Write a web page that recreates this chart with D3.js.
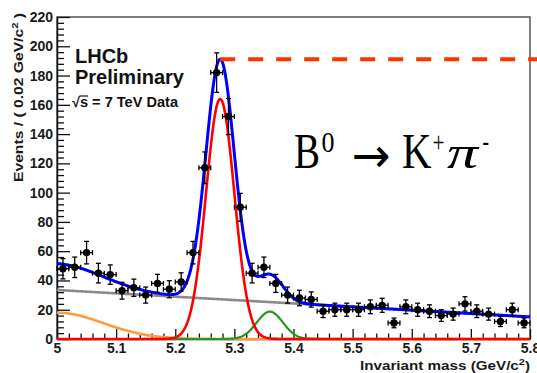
<!DOCTYPE html>
<html>
<head>
<meta charset="utf-8">
<script src="https://cdn.jsdelivr.net/npm/d3@7"></script>
<style>
  html, body { margin: 0; padding: 0; background: #fff; }
  svg { display: block; }
  .tick text { font-family: "Liberation Sans", Arial, Helvetica, sans-serif; font-weight: bold; font-size: 14px; fill: #1a1a1a; }
</style>
</head>
<body>
<svg id="chart" width="537" height="373"></svg>
<script>
// Bin centres of the invariant-mass histogram (GeV/c^2), 0.02 GeV/c^2 wide
const massBins = [5.01, 5.03, 5.05, 5.07, 5.09, 5.11, 5.13, 5.15, 5.17, 5.19,
                  5.21, 5.23, 5.25, 5.27, 5.29, 5.31, 5.33, 5.35, 5.37, 5.39,
                  5.41, 5.43, 5.45, 5.47, 5.49, 5.51, 5.53, 5.55, 5.57, 5.59,
                  5.61, 5.63, 5.65, 5.67, 5.69, 5.71, 5.73, 5.75, 5.77, 5.79];
// Candidates per bin
const counts = [48, 49, 59, 45, 44, 33, 35, 30, 38, 34,
                39, 59, 117, 182, 152, 90, 45, 49, 38, 30,
                28, 27, 19, 20, 20, 20, 22, 23, 11, 22,
                20, 19, 16, 17, 24, 19, 17, 12, 20, 11];
const binHalfWidth = 0.01;

// Fit components: Gaussian peaks as [mean, sigma, height]
const signalPeak = [5.276, 0.024, 164];     // B0 -> K+ pi-
const bsPeak = [5.360, 0.022, 18.7];        // Bs component
const partRecoPeak = [5.000, 0.078, 18];    // partially reconstructed background
// Combinatorial background: [value at 5.0 GeV, slope per GeV]
const combinatorial = [33.5, -23];

// Axis ticks
const xMajor = [5.0, 5.1, 5.2, 5.3, 5.4, 5.5, 5.6, 5.7, 5.8];
const xLabels = ["5", "5.1", "5.2", "5.3", "5.4", "5.5", "5.6", "5.7", "5.8"];
const yMajor = [0, 20, 40, 60, 80, 100, 120, 140, 160, 180, 200, 220];

const svg = d3.select("#chart");
const font = '"Liberation Sans", Arial, Helvetica, sans-serif';

const x = d3.scaleLinear().domain([5.0, 5.8]).range([57, 530]);
const y = d3.scaleLinear().domain([0, 220]).range([339, 17]);

// ---- frame and axes ----
svg.append("rect")
  .attr("x", 57).attr("y", 17).attr("width", 530 - 57).attr("height", 339 - 17)
  .attr("fill", "none").attr("stroke", "#555").attr("stroke-width", 1.5);

const xMinor = d3.range(0, 41).map(i => 5.0 + i * 0.02).filter(v => Math.abs(v * 10 - Math.round(v * 10)) > 1e-6);
const yMinor = d3.range(0, 56).map(i => i * 4).filter(v => v % 20 !== 0);

svg.append("g").attr("transform", "translate(0,339)")
  .call(d3.axisBottom(x).tickValues(xMajor).tickFormat((d, i) => xLabels[i])
    .tickSizeInner(-10).tickSizeOuter(0).tickPadding(4));
svg.append("g").attr("transform", "translate(0,339)")
  .call(d3.axisBottom(x).tickValues(xMinor).tickFormat("").tickSizeInner(-5.5).tickSizeOuter(0))
  .call(g => g.select(".domain").remove());

svg.append("g").attr("transform", "translate(57,0)")
  .call(d3.axisLeft(y).tickValues(yMajor).tickFormat(d3.format("d"))
    .tickSizeInner(-13).tickSizeOuter(0).tickPadding(4));
svg.append("g").attr("transform", "translate(57,0)")
  .call(d3.axisLeft(y).tickValues(yMinor).tickFormat("").tickSizeInner(-7).tickSizeOuter(0))
  .call(g => g.select(".domain").remove());

svg.selectAll(".domain").attr("stroke", "#111").attr("stroke-width", 1.5);
svg.selectAll(".tick line").attr("stroke", "#111").attr("stroke-width", 1.3);

// ---- fit model curves ----
const gauss = (p, m) => p[2] * Math.exp(-0.5 * Math.pow((m - p[0]) / p[1], 2));
const comb = m => combinatorial[0] + combinatorial[1] * (m - 5.0);
const partReco = m => (m >= partRecoPeak[0] ? gauss(partRecoPeak, m) : partRecoPeak[2]);
const total = m => comb(m) + partReco(m) + gauss(signalPeak, m) + gauss(bsPeak, m);

const grid = d3.range(0, 801).map(i => 5.0 + i * 0.001);
const line = fn => d3.line().x(m => x(m)).y(m => y(fn(m)))(grid);

const curves = [
  { fn: comb, color: "#8a8a8a", width: 2.6 },
  { fn: partReco, color: "#ff9a40", width: 2.6 },
  { fn: m => gauss(bsPeak, m), color: "#1f9a1f", width: 2.2 },
  { fn: m => gauss(signalPeak, m), color: "#ff0000", width: 2.6 },
  { fn: total, color: "#0000ff", width: 3 }
];
svg.append("g").selectAll("path").data(curves).join("path")
  .attr("d", c => line(c.fn))
  .attr("fill", "none")
  .attr("stroke", c => c.color)
  .attr("stroke-width", c => c.width)
  .attr("stroke-linejoin", "round");

// Dashed level at the maximum of the total fit
const peakMass = d3.greatest(grid, total);
const peakValue = total(peakMass);
svg.append("line")
  .attr("x1", x(peakMass)).attr("x2", 537)
  .attr("y1", y(peakValue)).attr("y2", y(peakValue))
  .attr("stroke", "#ff3300").attr("stroke-width", 4)
  .attr("stroke-dasharray", "15,13");

// ---- data points with error bars ----
const data = massBins.map((m, i) => ({ m, n: counts[i], e: Math.sqrt(counts[i]) }));
const pts = svg.append("g").attr("stroke", "#000").attr("stroke-width", 1.3);
const cap = 2.5;
data.forEach(d => {
  const cx = x(d.m), cy = y(d.n);
  const yTop = y(d.n + d.e), yBot = y(d.n - d.e);
  const xl = x(d.m - binHalfWidth), xr = x(d.m + binHalfWidth);
  pts.append("line").attr("x1", cx).attr("x2", cx).attr("y1", yTop).attr("y2", yBot);
  pts.append("line").attr("x1", cx - cap).attr("x2", cx + cap).attr("y1", yTop).attr("y2", yTop);
  pts.append("line").attr("x1", cx - cap).attr("x2", cx + cap).attr("y1", yBot).attr("y2", yBot);
  pts.append("line").attr("x1", xl).attr("x2", xr).attr("y1", cy).attr("y2", cy);
  pts.append("line").attr("x1", xl).attr("x2", xl).attr("y1", cy - cap).attr("y2", cy + cap);
  pts.append("line").attr("x1", xr).attr("x2", xr).attr("y1", cy - cap).attr("y2", cy + cap);
});
svg.append("g").selectAll("circle").data(data).join("circle")
  .attr("cx", d => x(d.m)).attr("cy", d => y(d.n)).attr("r", 3.7).attr("fill", "#000");

// ---- axis titles ----
const yTitle = svg.append("text")
  .attr("transform", "translate(23,13) rotate(-90)")
  .attr("text-anchor", "end")
  .attr("font-family", font).attr("font-weight", "bold").attr("font-size", 12.5)
  .attr("fill", "#1a1a1a")
  .attr("textLength", 169).attr("lengthAdjust", "spacingAndGlyphs");
yTitle.append("tspan").text("Events / ( 0.02 GeV/c");
yTitle.append("tspan").attr("dy", -5).attr("font-size", 9).text("2");
yTitle.append("tspan").attr("dy", 5).text(" )");

const xTitle = svg.append("text")
  .attr("x", 530).attr("y", 370)
  .attr("text-anchor", "end")
  .attr("font-family", font).attr("font-weight", "bold").attr("font-size", 12.5)
  .attr("fill", "#1a1a1a")
  .attr("textLength", 170).attr("lengthAdjust", "spacingAndGlyphs");
xTitle.append("tspan").text("Invariant mass (GeV/c");
xTitle.append("tspan").attr("dy", -5).attr("font-size", 9).text("2");
xTitle.append("tspan").attr("dy", 5).text(")");

// ---- experiment labels ----
svg.append("text").attr("x", 75).attr("y", 63)
  .attr("font-family", font).attr("font-weight", "bold").attr("font-size", 20)
  .attr("fill", "#111").text("LHCb");
svg.append("text").attr("x", 75).attr("y", 83.5)
  .attr("font-family", font).attr("font-weight", "bold").attr("font-size", 20)
  .attr("fill", "#111").text("Preliminary");

const energy = svg.append("text").attr("x", 72).attr("y", 107)
  .attr("font-family", font).attr("font-weight", "bold").attr("font-size", 14)
  .attr("fill", "#111")
  .attr("textLength", 106).attr("lengthAdjust", "spacingAndGlyphs");
energy.append("tspan").text("\u221A");
energy.append("tspan").text("s");
energy.append("tspan").text(" = 7 TeV Data");
{
  const node = energy.node();
  const sx = node.getStartPositionOfChar(1).x;
  const ex = node.getEndPositionOfChar(1).x;
  svg.append("line").attr("x1", sx - 0.5).attr("x2", ex)
    .attr("y1", 107 - 11).attr("y2", 107 - 11)
    .attr("stroke", "#111").attr("stroke-width", 1.2);
}

// ---- decay label ----
const serif = '"Liberation Serif", "Times New Roman", Times, serif';
const decay = [
  { t: "B", x: 294, y: 168, size: 50, w: 26 },
  { t: "0", x: 321.5, y: 151.5, size: 30, w: 13 },
  { t: "K", x: 402, y: 168, size: 50, w: 29.5 },
  { t: "+", x: 432.5, y: 152, size: 30, w: 12 },
  { t: "\u03C0", x: 447, y: 168, size: 46, w: 31, italic: true },
  { t: "-", x: 482.5, y: 151, size: 30, w: 6.5 }
];
svg.append("g").selectAll("text").data(decay).join("text")
  .attr("x", d => d.x).attr("y", d => d.y)
  .attr("font-family", serif)
  .attr("font-style", d => d.italic ? "italic" : "normal")
  .attr("font-size", d => d.size)
  .attr("textLength", d => d.w).attr("lengthAdjust", "spacingAndGlyphs")
  .attr("fill", "#000")
  .text(d => d.t);
// The arrow is set in DejaVu Sans, whose glyph has a heavier shaft and head
svg.append("text")
  .attr("x", 371).attr("y", 171.5)
  .attr("text-anchor", "middle")
  .attr("font-family", '"DejaVu Sans", sans-serif')
  .attr("font-size", 48)
  .attr("textLength", 39).attr("lengthAdjust", "spacingAndGlyphs")
  .attr("fill", "#000")
  .text("\u2192");
</script>
</body>
</html>
